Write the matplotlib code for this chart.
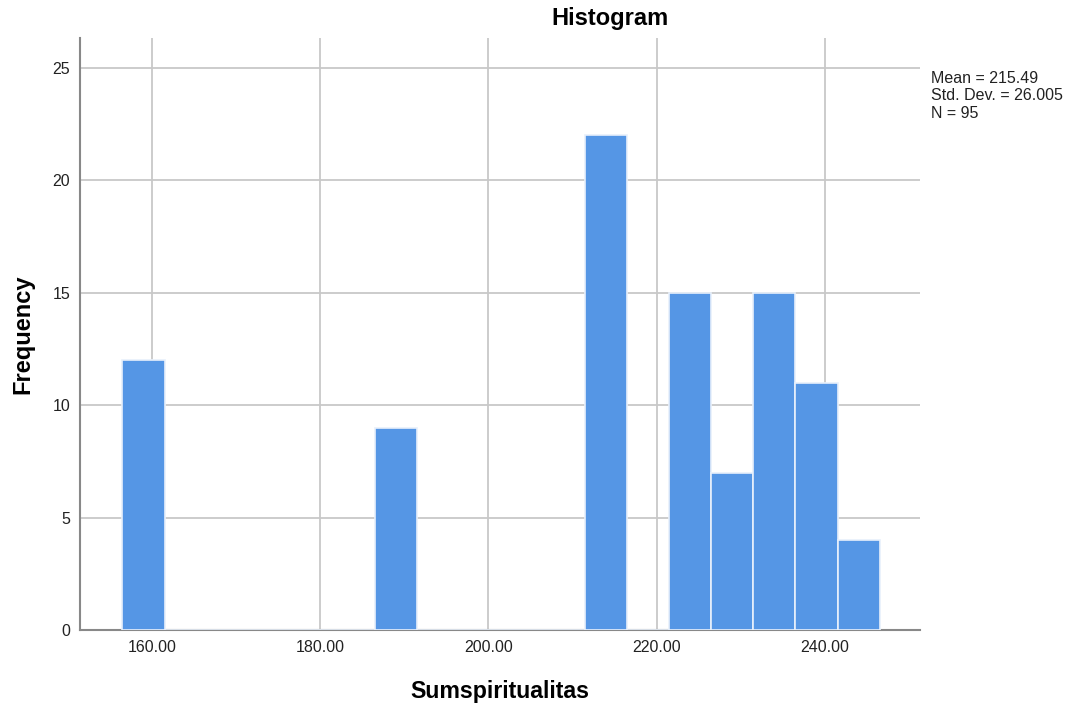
import matplotlib
matplotlib.use("Agg")
import matplotlib.pyplot as plt
import numpy as np

plt.rcParams['font.family'] = ['Liberation Sans', 'DejaVu Sans']

bin_left = [156.5, 161.5, 166.5, 171.5, 176.5, 181.5, 186.5, 191.5, 196.5, 201.5,
            206.5, 211.5, 216.5, 221.5, 226.5, 231.5, 236.5, 241.5]
counts = [12, 0, 0, 0, 0, 0, 9, 0, 0, 0, 0, 22, 0, 15, 7, 15, 11, 4]
bin_width = 5
xticks = [160, 180, 200, 220, 240]
xtick_labels = ["160.00", "180.00", "200.00", "220.00", "240.00"]
yticks = [0, 5, 10, 15, 20, 25]
stats_text = "Mean = 215.49\nStd. Dev. = 26.005\nN = 95"

fig = plt.figure(figsize=(10.73, 7.08), dpi=100)
ax = fig.add_axes([80/1073, 1 - 630/708, 840/1073, 592/708])

ax.bar(bin_left, counts, width=bin_width, align='edge', color='#5596e5',
       edgecolor='#e8f0fb', linewidth=1.2, zorder=3)

ax.set_xlim(151.45, 251.3)
ax.set_ylim(0, 26.33)
ax.set_xticks(xticks)
ax.set_xticklabels(xtick_labels)
ax.set_yticks(yticks)
ax.grid(True, color='#c8c8c8', linewidth=1.3, zorder=0)
ax.set_axisbelow(True)
ax.tick_params(length=0, labelsize=11.5, colors='#222222', pad=7)
for s in ['top', 'right']:
    ax.spines[s].set_visible(False)
for s in ['left', 'bottom']:
    ax.spines[s].set_color('#888888')
    ax.spines[s].set_linewidth(1.5)

ax.set_xlabel("Sumspiritualitas", fontsize=16.7, fontweight='bold', labelpad=18)
ax.set_ylabel("Frequency", fontsize=17, fontweight='bold', labelpad=13)

fig.text(610/1073, 1 - 19/708, "Histogram", ha='center', va='center',
         fontsize=17, fontweight='bold')
fig.text(931/1073, 1 - 71/708, stats_text, ha='left', va='top',
         fontsize=11.5, linespacing=1.2, color='#222222')

fig.savefig("out.png", dpi=100)
